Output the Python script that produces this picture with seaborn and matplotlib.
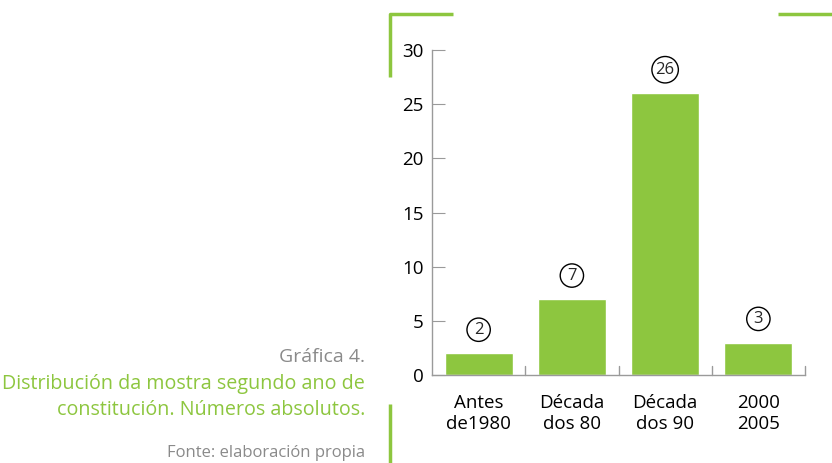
import pandas as pd
import seaborn as sns
import matplotlib.pyplot as plt
from matplotlib.lines import Line2D

# data
categories = ['Antes\nde1980', 'Década\ndos 80', 'Década\ndos 90', '2000\n2005']
counts = [2, 7, 26, 3]
yticks = [0, 5, 10, 15, 20, 25, 30]

green = '#8DC63F'
grey = '#9a9a9a'

sns.set_style('white')
plt.rcParams['font.family'] = ['Open Sans', 'DejaVu Sans']

df = pd.DataFrame({'cat': categories, 'n': counts})

fig = plt.figure(figsize=(8.32, 4.63), dpi=100)
ax = fig.add_axes([432/832, 1-375/463, (805-432)/832, (375-50)/463])

sns.barplot(x='cat', y='n', data=df, color=green, width=0.73, saturation=1, ax=ax)

ax.set_ylim(0, 30)
ax.set_xlim(-0.5, 3.5)
ax.set_yticks(yticks)
ax.set_xticks([])
ax.set_xlabel('')
ax.set_ylabel('')
for s in ['top', 'right']:
    ax.spines[s].set_visible(False)
for s in ['left', 'bottom']:
    ax.spines[s].set_color(grey)
    ax.spines[s].set_linewidth(1)
ax.tick_params(axis='y', direction='in', length=9, color=grey, labelsize=13.5,
               labelcolor='black', pad=6, left=True)

# x ticks between categories, pointing up
for xb in [0.5, 1.5, 2.5, 3.5]:
    ax.plot([xb, xb], [0, 0.8], color=grey, lw=1, clip_on=False)

# category labels
for i, c in enumerate(categories):
    ax.annotate(c, (i, 0), xytext=(0, -14), textcoords='offset points',
                ha='center', va='top', fontsize=13.5, linespacing=1.15,
                color='black', fontweight='medium')

# circled values
for i, v in enumerate(counts):
    ax.annotate(str(v), (i, v), xytext=(0, 17), textcoords='offset points',
                ha='center', va='center', fontsize=12,
                bbox=dict(boxstyle='circle,pad=0.22', fc='white', ec='black', lw=1))

# caption
fig.text(365/832, 1-357/463, 'Gráfica 4.', ha='right', va='center', fontsize=14, color='#8a8a8a')
fig.text(365/832, 1-384/463, 'Distribución da mostra segundo ano de', ha='right', va='center', fontsize=14.2, color=green)
fig.text(365/832, 1-410/463, 'constitución. Números absolutos.', ha='right', va='center', fontsize=14.2, color=green)
fig.text(365/832, 1-453/463, 'Fonte: elaboración propia', ha='right', va='center', fontsize=12, color='#8a8a8a')

# green frame decorations
def deco(xs, ys):
    fig.add_artist(Line2D([x/832 for x in xs], [1-y/463 for y in ys], color=green, lw=2.5,
                          transform=fig.transFigure, solid_capstyle='butt'))

deco([390, 390, 453], [77, 14, 14])
deco([778, 832], [14, 14])
deco([390, 390], [404, 463])

fig.savefig('out.png', dpi=100)
